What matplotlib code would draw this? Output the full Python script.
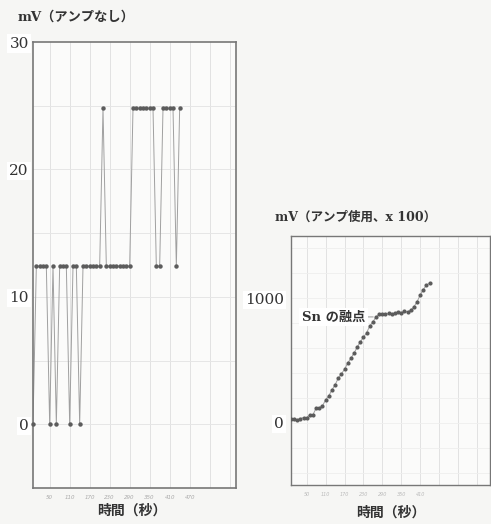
import numpy as np
import matplotlib.pyplot as plt

# left chart: no amplifier, mV, one reading every 10 s
L, M, H = 0.0, 12.4, 24.8
left_mv = [L, M, M, M, M, L, M, L, M, M, M, L, M, M, L,
           M, M, M, M, M, M, H, M, M, M, M, M, M, M, M,
           H, H, H, H, H, H, H, M, M, H, H, H, H, M, H]
left_t = [10 * i for i in range(len(left_mv))]

# right chart: amplifier used, x 100
right_mv = [30, 32, 24, 34, 42, 42, 64, 66, 118, 120, 136, 184, 216, 264, 304,
            358, 392, 430, 478, 518, 558, 606, 650, 686, 722, 776, 810, 850, 870, 872,
            870, 878, 872, 882, 888, 882, 896, 890, 904, 930, 970, 1024, 1070, 1104, 1122]
right_t = [10 * i for i in range(len(right_mv))]

time_ticks = [50, 110, 170, 230, 290, 350, 410, 470]
time_labels = ["50", "110", "170", "230", "290", "350", "410", "470"]
left_yticks = [0, 10, 20, 30]
right_yticks = [0, 1000]

JP = ["DejaVu Serif", "Noto Sans CJK JP"]
PAPER = "#f6f6f4"

fig = plt.figure(figsize=(4.91, 5.24), dpi=100, facecolor=PAPER)

# ---------- left chart ----------
ax1 = fig.add_axes([33 / 491, 1 - 488 / 524, 203 / 491, 446 / 524])
ax1.set_facecolor("#fbfbfa")
ax1.plot(left_t, left_mv, color="#a0a0a0", lw=0.7, zorder=2)
ax1.plot(left_t, left_mv, "o", color="#5c5c5c", ms=3.2, mec="none", zorder=3,
         clip_on=False)
ax1.set_xlim(0, 609)
ax1.set_ylim(-5, 30)
for x in range(50, 600, 60):
    ax1.axvline(x, color="#e2e2e2", lw=0.7, zorder=1)
for y in range(-5, 30, 5):
    ax1.axhline(y, color="#e6e6e6", lw=0.7, zorder=1)
ax1.set_xticks(time_ticks)
ax1.set_xticklabels(time_labels, fontsize=4, color="#aaaaaa", style="italic")
ax1.set_yticks(left_yticks)
ax1.set_yticklabels([str(v) for v in left_yticks], fontsize=11,
                    family="DejaVu Serif", color="#333333")
for lab in ax1.get_yticklabels():
    lab.set_bbox(dict(facecolor="white", edgecolor="none", pad=1.5))
ax1.tick_params(length=0, pad=3)
ax1.tick_params(axis="x", pad=5)
for s in ax1.spines.values():
    s.set_color("#777777")
    s.set_linewidth(1.2)

fig.text(18 / 491, 1 - 17 / 524, "mV（アンプなし）", family=JP, fontsize=9.5,
         fontweight="bold", color="#333333", va="center")
fig.text(132 / 491, 1 - 511 / 524, "時間（秒）", family=JP, fontsize=10,
         fontweight="bold", color="#333333", ha="center", va="center")

# ---------- right chart ----------
ax2 = fig.add_axes([291 / 491, 1 - 485 / 524, 199 / 491, 249 / 524])
ax2.set_facecolor("#fbfbfa")
ax2.plot(right_t, right_mv, color="#a0a0a0", lw=0.7, zorder=2)
ax2.plot(right_t, right_mv, "o", color="#5c5c5c", ms=3.0, mec="none", zorder=3)
ax2.set_xlim(0, 632)
ax2.set_ylim(-500, 1500)
for x in range(50, 632, 60):
    ax2.axvline(x, color="#e2e2e2", lw=0.7, zorder=1)
for y in range(-400, 1500, 200):
    ax2.axhline(y, color="#eeeeee", lw=0.6, zorder=1)
ax2.set_xticks(time_ticks[:-1])
ax2.set_xticklabels(time_labels[:-1], fontsize=3.5, color="#bbbbbb", style="italic")
ax2.set_yticks(right_yticks)
ax2.set_yticklabels([str(v) for v in right_yticks], fontsize=11,
                    family="DejaVu Serif", color="#333333")
for lab in ax2.get_yticklabels():
    lab.set_bbox(dict(facecolor="white", edgecolor="none", pad=1.5))
ax2.tick_params(length=0, pad=5)
for s in ax2.spines.values():
    s.set_color("#777777")
    s.set_linewidth(1.0)

ax2.annotate("Sn の融点", xy=(270, 850), xytext=(35, 850), family=JP,
             fontsize=9.5, fontweight="bold", color="#333333", va="center",
             bbox=dict(facecolor="white", edgecolor="none", pad=2),
             arrowprops=dict(arrowstyle="-", color="#999999", lw=0.7,
                             shrinkA=0, shrinkB=2))

fig.text(275 / 491, 1 - 217 / 524, "mV（アンプ使用、x 100）", family=JP,
         fontsize=9, fontweight="bold", color="#333333", va="center")
fig.text(391 / 491, 1 - 513 / 524, "時間（秒）", family=JP, fontsize=10,
         fontweight="bold", color="#333333", ha="center", va="center")

fig.savefig("out.png", dpi=100, facecolor=PAPER)
